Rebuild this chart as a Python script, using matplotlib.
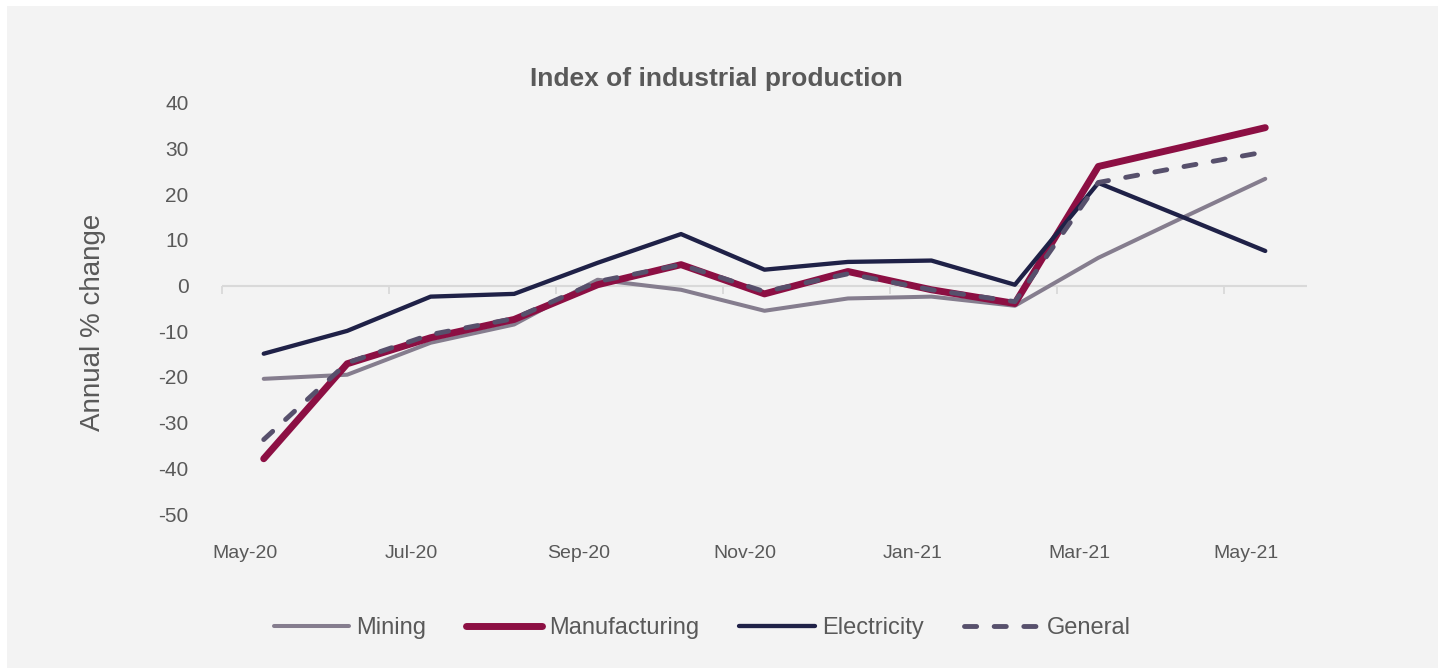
import numpy as np
import matplotlib.pyplot as plt
from matplotlib.patches import Rectangle

plt.rcParams['font.family'] = ['Liberation Sans', 'DejaVu Sans']
plt.rcParams['axes.unicode_minus'] = False

# monthly data, May-20 .. May-21
months = ["May-20", "Jun-20", "Jul-20", "Aug-20", "Sep-20", "Oct-20", "Nov-20",
          "Dec-20", "Jan-21", "Feb-21", "Mar-21", "Apr-21", "May-21"]
mining = [-20.4, -19.5, -12.5, -8.5, 1.3, -0.9, -5.5, -2.8, -2.4, -4.4, 6.1, 14.8, 23.4]
manufacturing = [-37.9, -17.1, -11.4, -7.4, 0.2, 4.6, -1.8, 3.1, -0.9, -3.9, 26.1, 30.3, 34.6]
electricity = [-14.9, -9.9, -2.4, -1.8, 5.0, 11.3, 3.5, 5.2, 5.5, 0.2, 22.5, 15.1, 7.6]
general = [-33.7, -16.9, -10.7, -7.2, 0.9, 4.6, -1.3, 2.6, -0.9, -3.5, 22.6, 26.0, 29.3]

label_months = months[::2]
yticks = [40, 30, 20, 10, 0, -10, -20, -30, -40, -50]

txt = "#595959"
bg = "#f3f3f3"

fig = plt.figure(figsize=(14.38, 6.68), dpi=100, facecolor="white")
fig.patches.append(Rectangle((7 / 1438, 0), 1, 1 - 6 / 668, transform=fig.transFigure,
                             facecolor=bg, edgecolor="none", zorder=-10))

ax = fig.add_axes([222 / 1438, 1 - 514 / 668, (1307 - 222) / 1438, (514 - 103) / 668])
ax.set_facecolor(bg)
ax.patch.set_alpha(0)

x = np.arange(len(months))
ax.plot(x, mining, color="#857d8e", lw=2.9, solid_capstyle="round", label="Mining")
ax.plot(x, manufacturing, color="#8c0f43", lw=5.0, solid_capstyle="round", label="Manufacturing")
ax.plot(x, electricity, color="#1f2147", lw=3.1, solid_capstyle="round", label="Electricity")
ax.plot(x, general, color="#57506c", lw=3.5, linestyle=(0, (2.5, 3.6)),
        dash_capstyle="round", label="General")

ax.set_xlim(-0.5, 12.5)
ax.set_ylim(-50, 40)
for s in ax.spines.values():
    s.set_visible(False)

ax.set_yticks(yticks)
ax.tick_params(axis="y", length=0, pad=24, labelsize=15, labelcolor=txt)
ax.set_xticks(x[::2] - 0.23)
ax.set_xticklabels(label_months)
ax.tick_params(axis="x", length=0, pad=22, labelsize=14, labelcolor=txt)

# zero line with tick marks
ax.axhline(0, color="#d9d9d9", lw=1.5, zorder=0.5)
sec = ax.secondary_xaxis(50 / 90)
for s in sec.spines.values():
    s.set_visible(False)
sec.set_xticks(np.arange(-0.5, 12, 2))
sec.tick_params(axis="x", direction="out", length=6, width=1.3, color="#d9d9d9",
                labelbottom=False, labeltop=False, bottom=True, top=False)

fig.text(716 / 1438, 1 - 79 / 668, "Index of industrial production", ha="center", va="center",
         fontsize=19, fontweight="bold", color=txt)
fig.text(93 / 1438, 1 - 322 / 668, "Annual % change", ha="center", va="center",
         rotation=90, fontsize=20, color=txt)

fig.legend(loc="center", bbox_to_anchor=(702 / 1438, 1 - 628 / 668), ncol=4, frameon=False,
           fontsize=17, labelcolor=txt, handlelength=3.2, handletextpad=0.3, columnspacing=1.7)

fig.savefig("out.png", dpi=100, facecolor="white")
